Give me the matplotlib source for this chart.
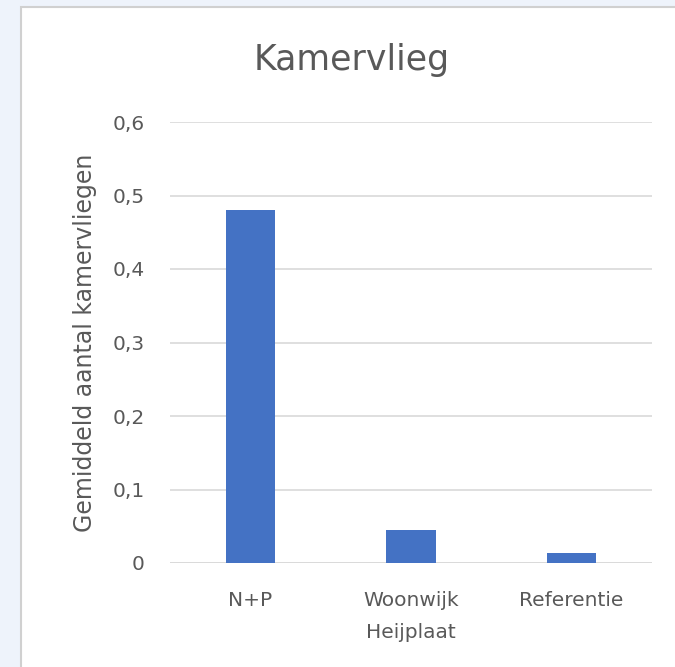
import numpy as np
import matplotlib.pyplot as plt
from matplotlib.patches import Rectangle

categories = ['N+P', 'Woonwijk\nHeijplaat', 'Referentie']
values = [0.48, 0.045, 0.014]
yticks = [0, 0.1, 0.2, 0.3, 0.4, 0.5, 0.6]
ytick_labels = ['0', '0,1', '0,2', '0,3', '0,4', '0,5', '0,6']

plt.rcParams['font.family'] = ['DejaVu Sans']
txt = '#595959'

fig = plt.figure(figsize=(6.75, 6.67), dpi=100, facecolor='#eef3fb')
# white chart area with a thin border at left/top
fig.patches.append(Rectangle((21 / 675, -0.1), 1.2, 1.1 - 7 / 667, transform=fig.transFigure,
                             facecolor='white', edgecolor='#d0d0d0', linewidth=1.5, zorder=-5))

ax = fig.add_axes([170 / 675, 1 - 563 / 667, 482 / 675, 441 / 667])
ax.set_facecolor('none')
ax.set_zorder(2)
x = np.arange(len(categories))
ax.bar(x, values, width=0.305, color='#4472c4', zorder=3)
ax.set_xlim(-0.5, len(categories) - 0.5)
ax.set_ylim(0, 0.6)
ax.set_yticks(yticks)
ax.set_yticklabels(ytick_labels)
ax.set_xticks(x)
ax.set_xticklabels(categories, linespacing=1.85)
ax.grid(axis='y', color='#d9d9d9', linewidth=1.2, zorder=0)
for s in ax.spines.values():
    s.set_visible(False)
ax.axhline(0, color='#d9d9d9', linewidth=1.2, zorder=1)
ax.tick_params(length=0, labelsize=14.5, colors=txt)
ax.tick_params(axis='y', pad=18)
ax.tick_params(axis='x', pad=20)
ax.set_ylabel('Gemiddeld aantal kamervliegen', fontsize=17, color=txt, labelpad=11)
fig.text(352 / 675, 1 - 60 / 667, 'Kamervlieg', ha='center', va='center', fontsize=25, color=txt)

fig.savefig('out.png', dpi=100, facecolor=fig.get_facecolor())
